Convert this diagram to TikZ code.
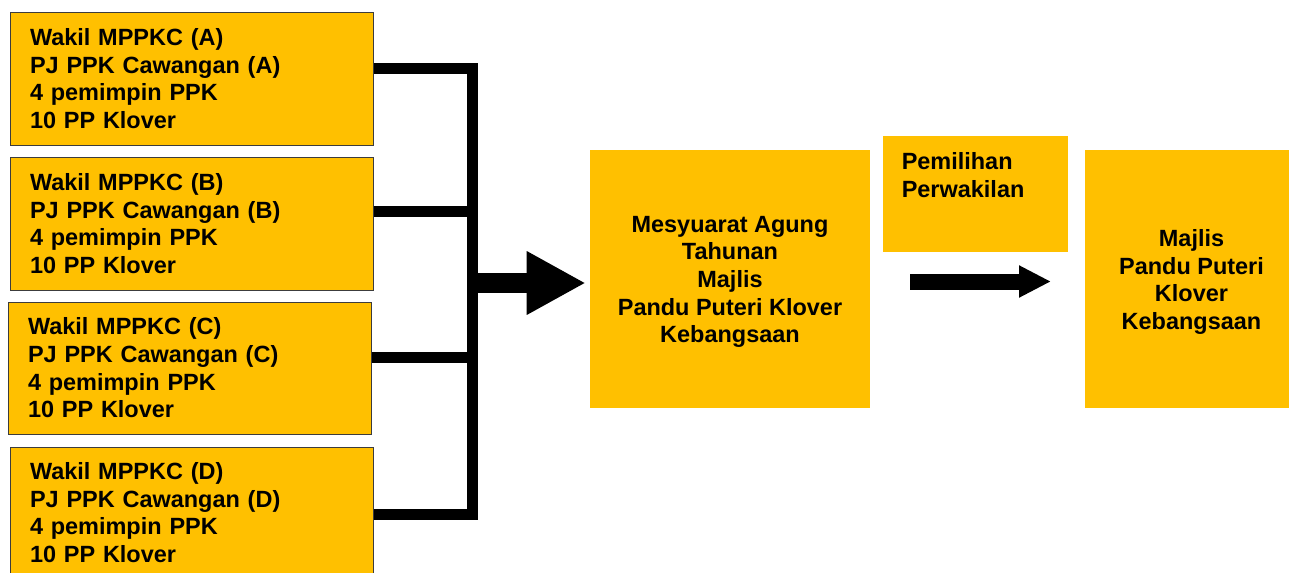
\documentclass[tikz,border=0pt]{standalone}
\usepackage{fontspec}
\setmainfont{Liberation Sans}
\usetikzlibrary{arrows.meta}
\definecolor{kgold}{HTML}{FFC000}
\definecolor{boxline}{HTML}{3C3C3C}
\newcommand\kfont{\fontsize{17.6pt}{20.7pt}\selectfont\bfseries}
\tikzset{
  lbox/.style={draw=boxline, line width=0.75pt, fill=kgold, minimum width=272.25pt,
    minimum height=99.75pt, text width=242.25pt, inner xsep=15pt, inner ysep=0pt,
    align=left, font=\kfont},
  gbox/.style={fill=kgold, inner sep=0pt},
  gtext/.style={inner sep=0pt, align=center, font=\kfont},
  conn/.style={line width=8.25pt},
}
\begin{document}
\begin{tikzpicture}[x=0.75pt,y=-0.75pt]
\useasboundingbox (0,0) rectangle (1289,572);
\clip (0,0) rectangle (1289,572);
% left boxes
\node[lbox] (A) at (191.5,78.5) {Wakil MPPKC (A)\\PJ PPK Cawangan (A)\\4 pemimpin PPK\\10 PP Klover};
\node[lbox] (B) at (191.5,223.5) {Wakil MPPKC (B)\\PJ PPK Cawangan (B)\\4 pemimpin PPK\\10 PP Klover};
\node[lbox, minimum height=99pt] (C) at (189.5,368) {Wakil MPPKC (C)\\PJ PPK Cawangan (C)\\4 pemimpin PPK\\10 PP Klover};
\node[lbox, minimum height=98.25pt] (D) at (191.5,512.5) {Wakil MPPKC (D)\\PJ PPK Cawangan (D)\\4 pemimpin PPK\\10 PP Klover};
% middle and right boxes
\node[gbox, minimum width=210pt, minimum height=193.5pt] (M) at (730,279) {};
\node[gtext] (Mt) at ([yshift=-2.25pt]M.center)
  {Mesyuarat Agung\\Tahunan\\Majlis\\Pandu Puteri Klover\\Kebangsaan};
\node[gbox, minimum width=138.75pt, minimum height=87pt] (P) at (975.5,194) {};
\node[anchor=base west, inner sep=0pt, align=left, font=\kfont] (Pt) at (901.5,197.3) {Pemilihan\\Perwakilan};
\node[gbox, minimum width=159.75pt, minimum height=193.5pt] (R) at (1191.5,279) {};
\node[gtext] (Rt) at ([yshift=-2.1pt]R.center) {Majlis\\Pandu Puteri\\Klover\\Kebangsaan};
% junction coordinates
\coordinate (jA) at (472,68);
\coordinate (jB) at (472,211);
\coordinate (jC) at (472,357);
\coordinate (jD) at (472,514.5);
\coordinate (jM) at (472,283);
\coordinate (s1) at (910,281.5);
\coordinate (s2) at (1051,281.5);
% connectors
\draw[conn, line join=miter] (A.east |- jA) -- (jA) -- (jD) -- (D.east |- jD);
\draw[conn] (B.east |- jB) -- (jB);
\draw[conn] (C.east |- jC) -- (jC);
\draw[line width=15pt, -{Triangle[length=44.25pt,width=44.5pt]}] (jM) -- ([xshift=-3pt]M.west |- jM);
\draw[line width=12pt, -{Triangle[length=24pt,width=22.5pt]}] (s1) -- (s2);
\end{tikzpicture}
\end{document}
